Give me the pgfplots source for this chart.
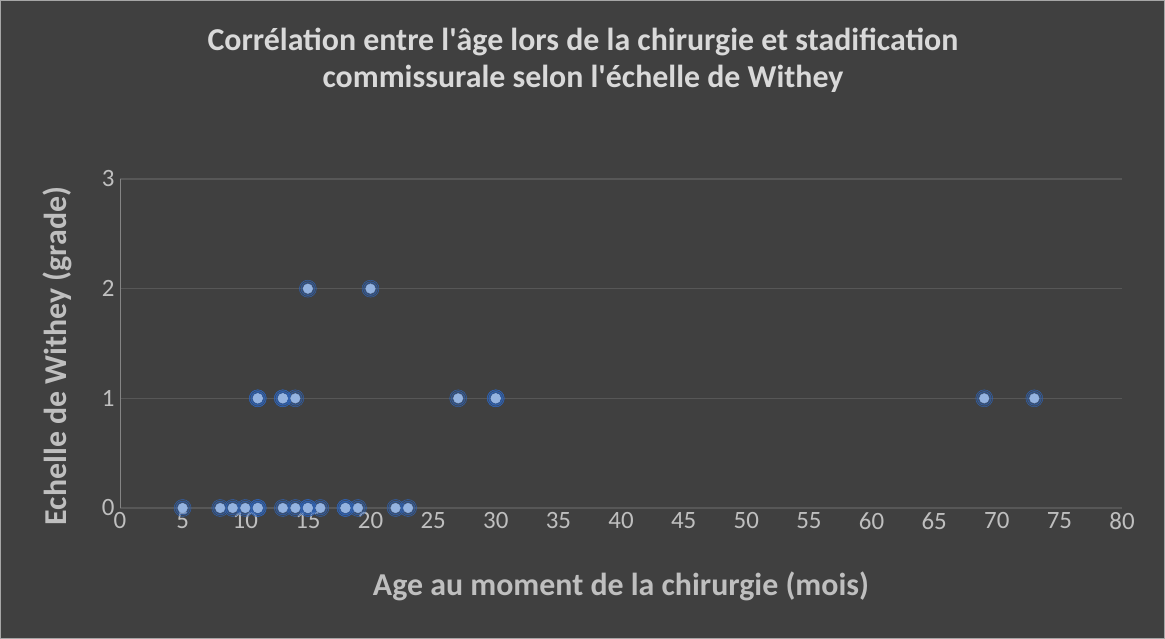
\documentclass[border=0pt]{standalone}
\usepackage{pgfplots}
\pgfplotsset{compat=1.18}
\usepackage{fontspec}
\setmainfont{Carlito}[Ligatures=TeXOff]
\definecolor{bg}{HTML}{404040}
\definecolor{txt}{HTML}{D9D9D9}
\definecolor{lbl}{HTML}{BFBFBF}
\definecolor{gridc}{HTML}{575757}
\definecolor{axc}{HTML}{858585}
\definecolor{ptc}{HTML}{94B3E0}
\definecolor{glow}{HTML}{2F64B8}
\pgfplotstableread{
x y
5 0
8 0
9 0
10 0
11 0
11 0
13 0
14 0
15 0
15 0
16 0
18 0
18 0
19 0
22 0
23 0
11 1
11 1
13 1
13 1
14 1
27 1
30 1
30 1
69 1
73 1
15 2
20 2
}\pts
\newcommand\tfont{\fontsize{25}{28}\selectfont}
\begin{document}
\begin{tikzpicture}[x=1bp,y=1bp]
\fill[bg] (0,0) rectangle (1165,639);
\draw[line width=1bp,color=gray!70] (0.5,0.5) rectangle (1164.5,638.5);
\node[txt,font=\fontsize{32}{37}\selectfont\bfseries,anchor=base] at (583,588) {Corrélation entre l'âge lors de la chirurgie et stadification};
\node[txt,font=\fontsize{32}{37}\selectfont\bfseries,anchor=base] at (583,551) {commissurale selon l'échelle de Withey};
\begin{axis}[
  at={(120bp,131bp)}, anchor=south west,
  scale only axis, width=1002bp, height=329bp,
  xmin=0, xmax=80, ymin=0, ymax=3,
  xtick={0,5,...,80}, ytick={0,1,2,3},
  xticklabels={0,5,10,15,20,25,30,35,40,45,50,55,60,65,70,75,80},
  yticklabels={0,1,2,3},
  axis x line*=bottom, axis y line*=left,
  axis line style={axc,line width=1bp},
  x axis line style={gridc},
  tick style={draw=none},
  ymajorgrids, grid style={gridc,line width=1.2bp},
  xticklabel style={lbl,font=\tfont,yshift=-1bp},
  yticklabel style={lbl,font=\tfont,xshift=-2bp},
  xlabel={Age au moment de la chirurgie (mois)},
  ylabel={Echelle de Withey (grade)},
  label style={lbl,font=\fontsize{32}{36}\selectfont\bfseries},
  xlabel style={at={(axis description cs:0.5,0)}, anchor=base, yshift=-88bp},
  ylabel style={at={(axis description cs:-0.063,0.462)}, anchor=center},
  clip=false,
]
\addplot[only marks, mark=*, color=glow, mark size=8.5bp, mark options={draw=none,fill=glow,fill opacity=0.2}] table {\pts};
\addplot[only marks, mark=*, color=glow, mark size=6.8bp, mark options={draw=none,fill=glow,fill opacity=0.3}] table {\pts};
\addplot[only marks, mark=*, color=ptc, mark size=4.8bp, mark options={draw=none,fill=ptc}] table {\pts};
\end{axis}
\end{tikzpicture}
\end{document}
